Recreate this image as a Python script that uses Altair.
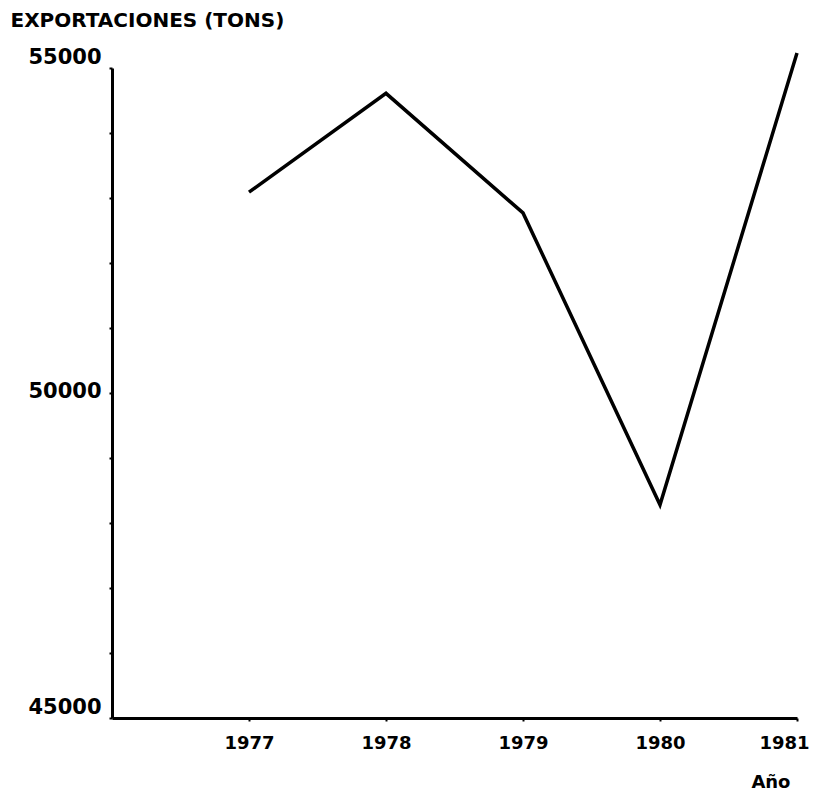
import altair as alt
import pandas as pd

years = [1977, 1978, 1979, 1980, 1981]
exports = [53090, 54610, 52770, 48280, 55230]

df = pd.DataFrame({"year": years, "tons": exports})

FONT = "DejaVu Sans"

line = alt.Chart(df).mark_line(color="black", strokeWidth=3.5, clip=False, strokeJoin="miter").encode(
    x=alt.X("year:Q",
            scale=alt.Scale(domain=[1976, 1981], nice=False, zero=False),
            axis=alt.Axis(values=years, format="d", title="Año",
                          titleX=678, titleY=64, titleAlign="right", titleBaseline="middle",
                          titleFont=FONT, titleFontSize=18, titleFontWeight="bold", titleColor="black",
                          labelFont=FONT, labelFontSize=18, labelFontWeight="bold", labelColor="black",
                          labelPadding=13, labelFlush=False, labelBound=False,
                          labelOffset={"condition": {"test": "datum.value == 1981", "value": -13}, "value": 0},
                          domainColor="black", domainWidth=3,
                          tickColor="black", tickSize=3, tickWidth=2, grid=False)),
    y=alt.Y("tons:Q",
            scale=alt.Scale(domain=[45000, 55000], nice=False, zero=False),
            axis=alt.Axis(values=list(range(45000, 55001, 1000)),
                          labelExpr="datum.value % 5000 == 0 ? datum.value : ''",
                          title="EXPORTACIONES (TONS)",
                          titleAngle=0, titleX=-102, titleY=-48, titleAlign="left", titleBaseline="middle",
                          titleFont=FONT, titleFontSize=20, titleFontWeight="bold", titleColor="black",
                          labelFont=FONT, labelFontSize=21, labelFontWeight="bold", labelColor="black",
                          labelPadding=8,
                          labelOffset={"condition": {"test": "datum.value == 50000", "value": -2}, "value": -11},
                          domainColor="black", domainWidth=3,
                          tickColor="black", tickSize=3, tickWidth=2, grid=False)),
)

chart = line.properties(
    width=685, height=650,
    autosize=alt.AutoSizeParams(type="none"),
    padding={"left": 104, "top": 60, "right": 13, "bottom": 76},
    background="white",
).configure_view(stroke=None)

chart.save("out.html", embed_options={"renderer": "svg", "actions": False})
